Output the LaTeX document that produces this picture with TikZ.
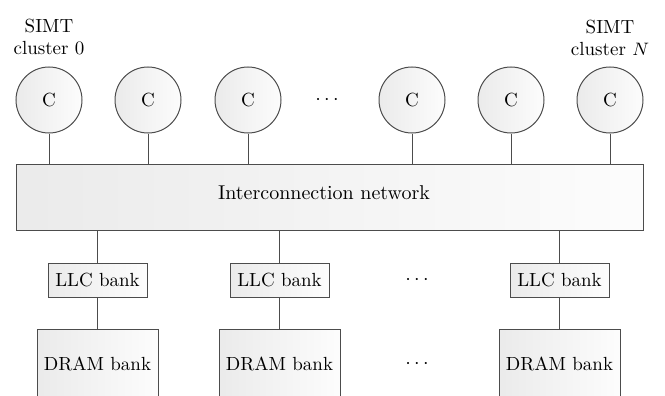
\documentclass[tikz,border=0pt]{standalone}
\usetikzlibrary{positioning}
\begin{document}
\begin{tikzpicture}[x=0.5pt,y=-0.5pt,line width=0.5pt,every edge/.append style={draw=black!70}]
\tikzstyle{core}=[circle,draw=black!70,left color=black!8,right color=black!1,minimum size=33pt,inner sep=0pt,font=\fontsize{9.5}{11}\selectfont]
\tikzstyle{bx}=[rectangle,draw=black!70,left color=black!8,right color=black!1,inner sep=0pt,font=\fontsize{9.5}{11}\selectfont]
\tikzstyle{llc}=[bx,minimum width=49.5pt,minimum height=17pt]
\tikzstyle{dram}=[bx,minimum width=60.5pt,minimum height=35pt]
\tikzstyle{lbl}=[align=center,label distance=2pt,font=\fontsize{9.5}{11}\selectfont]
\clip (0,0) rectangle (665,396);
% SIMT clusters
\node[core, label={[lbl]above:SIMT\\cluster 0}]  (C0) at (49,100)  {C};
\node[core]                                      (C1) at (148,100) {C};
\node[core]                                      (C2) at (248,100) {C};
\node                                            (dt) at (327,100) {$\cdots$};
\node[core]                                      (C3) at (412,100) {C};
\node[core]                                      (C4) at (511,100) {C};
\node[core, label={[lbl]above:SIMT\\cluster $N$}] (CN) at (610,100) {C};
% network
\node[bx,minimum width=313.5pt,minimum height=33pt,
      label={[font=\fontsize{10}{12}\selectfont,xshift=-2.75pt,yshift=2pt]center:Interconnection network}] (net) at (329.5,197) {};
% LLC and DRAM banks
\node[llc]  (L0) at (97.5,280)  {LLC bank};
\node[llc]  (L1) at (279.5,280) {LLC bank};
\node       (dl) at (417,280)   {$\cdots$};
\node[llc]  (L2) at (559.5,280) {LLC bank};
\node[dram] (D0) at (97.5,364)  {DRAM bank};
\node[dram] (D1) at (279.5,364) {DRAM bank};
\node       (dd) at (417,364)   {$\cdots$};
\node[dram] (D2) at (559.5,364) {DRAM bank};
\path
(C0) edge (C0 |- net.north)
(C1) edge (C1 |- net.north)
(C2) edge (C2 |- net.north)
(C3) edge (C3 |- net.north)
(C4) edge (C4 |- net.north)
(CN) edge (CN |- net.north)
(L0) edge (L0 |- net.south)
     edge (D0)
(L1) edge (L1 |- net.south)
     edge (D1)
(L2) edge (L2 |- net.south)
     edge (D2);
\end{tikzpicture}
\end{document}
